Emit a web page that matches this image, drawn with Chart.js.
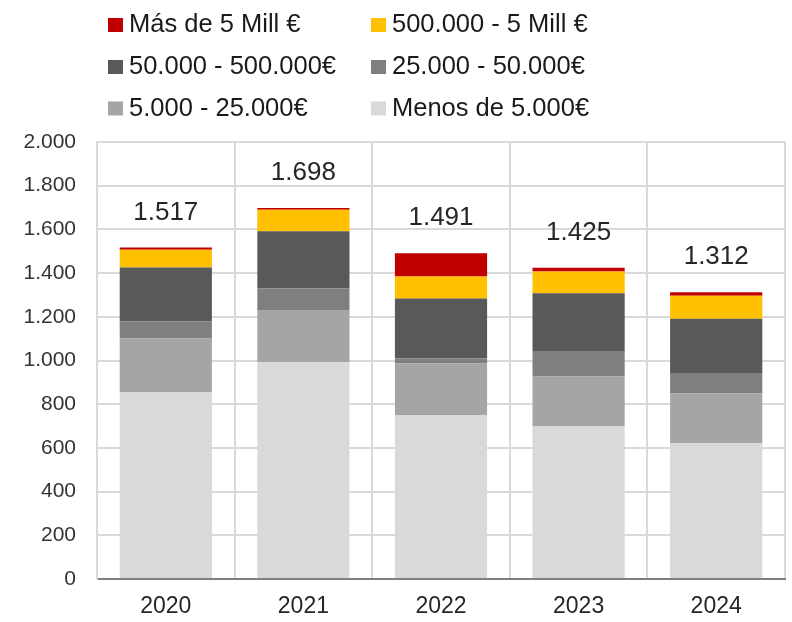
<!DOCTYPE html>
<html>
<head>
<meta charset="utf-8">
<script src="https://cdn.jsdelivr.net/npm/chart.js@4"></script>
<style>
  html, body { margin: 0; padding: 0; background: #ffffff; }
  #wrap { width: 792px; height: 622px; position: relative; }
</style>
</head>
<body>
<div id="wrap"><canvas id="c" width="792" height="622"></canvas></div>
<script>
// ---- Data ----
const categories = ['2020', '2021', '2022', '2023', '2024'];
const menos5k   = [855, 992, 751, 698, 621];   // Menos de 5.000€
const r5k25k    = [247, 239, 235, 229, 229];   // 5.000 - 25.000€
const r25k50k   = [76, 100, 23, 117, 93];      // 25.000 - 50.000€
const r50k500k  = [248, 260, 275, 264, 248];   // 50.000 - 500.000€
const r500k5m   = [81, 99, 100, 99, 105];      // 500.000 - 5 Mill €
const mas5m     = [10, 8, 107, 18, 16];        // Más de 5 Mill €
const seriesNames = ['Menos de 5.000€', '5.000 - 25.000€', '25.000 - 50.000€',
                     '50.000 - 500.000€', '500.000 - 5 Mill €', 'Más de 5 Mill €'];
const yTickValues = [0, 200, 400, 600, 800, 1000, 1200, 1400, 1600, 1800, 2000];

const seriesColors = ['#d9d9d9', '#a5a5a5', '#7f7f7f', '#595959', '#ffc000', '#c00000'];
const seriesData = [menos5k, r5k25k, r25k50k, r50k500k, r500k5m, mas5m];

function fmt(n) {
  return String(Math.round(n)).replace(/\B(?=(\d{3})+(?!\d))/g, '.');
}

const totalsPlugin = {
  id: 'totals',
  afterDatasetsDraw(chart) {
    const ctx = chart.ctx;
    const lastMeta = chart.getDatasetMeta(chart.data.datasets.length - 1);
    ctx.save();
    ctx.font = '26px "Liberation Sans", Arial, sans-serif';
    ctx.fillStyle = '#262626';
    ctx.textAlign = 'center';
    ctx.textBaseline = 'middle';
    categories.forEach((c, i) => {
      let total = 0;
      seriesData.forEach(s => total += s[i]);
      const el = lastMeta.data[i];
      ctx.fillText(fmt(total), el.x, el.y - 35);
    });
    ctx.restore();
  }
};

const legendPlugin = {
  id: 'customLegend',
  afterDraw(chart) {
    const ctx = chart.ctx;
    const order = [5, 4, 3, 2, 1, 0];
    const colX = [108, 371];
    const rowY = [25, 67, 108.5];
    ctx.save();
    ctx.font = '25.5px "Liberation Sans", Arial, sans-serif';
    ctx.textBaseline = 'middle';
    ctx.textAlign = 'left';
    order.forEach((dsIdx, k) => {
      const ds = chart.data.datasets[dsIdx];
      const x = colX[k % 2];
      const y = rowY[Math.floor(k / 2)];
      ctx.fillStyle = ds.backgroundColor;
      ctx.fillRect(x, y - 7, 15, 14);
      ctx.fillStyle = '#1a1a1a';
      ctx.fillText(ds.label, x + 21, y);
    });
    ctx.restore();
  }
};

new Chart(document.getElementById('c'), {
  type: 'bar',
  data: {
    labels: categories,
    datasets: seriesData.map((d, i) => ({
      label: seriesNames[i],
      data: d,
      backgroundColor: seriesColors[i],
      borderWidth: 0,
      categoryPercentage: 1.0,
      barPercentage: 0.67
    }))
  },
  options: {
    responsive: false,
    animation: false,
    devicePixelRatio: 1,
    layout: { padding: { top: 142, right: 7, bottom: 0, left: 0 } },
    plugins: {
      legend: { display: false },
      tooltip: { enabled: false }
    },
    scales: {
      x: {
        stacked: true,
        grid: { color: '#d9d9d9', lineWidth: 2, drawTicks: false, offset: true },
        border: { color: '#808080', width: 2 },
        ticks: {
          color: '#262626',
          font: { family: '"Liberation Sans", Arial, sans-serif', size: 23 },
          padding: 14
        },
        afterFit(scale) { scale.height = 43; }
      },
      y: {
        stacked: true,
        min: 0,
        max: 2000,
        afterBuildTicks(scale) { scale.ticks = yTickValues.map(v => ({ value: v })); },
        grid: { color: '#d9d9d9', lineWidth: 2, drawTicks: false },
        border: { color: '#d9d9d9', width: 2 },
        ticks: {
          color: '#333333',
          font: { family: '"Liberation Sans", Arial, sans-serif', size: 21 },
          padding: 21,
          callback: v => fmt(v)
        },
        afterFit(scale) { scale.width = 97; }
      }
    }
  },
  plugins: [totalsPlugin, legendPlugin]
});
</script>
</body>
</html>
